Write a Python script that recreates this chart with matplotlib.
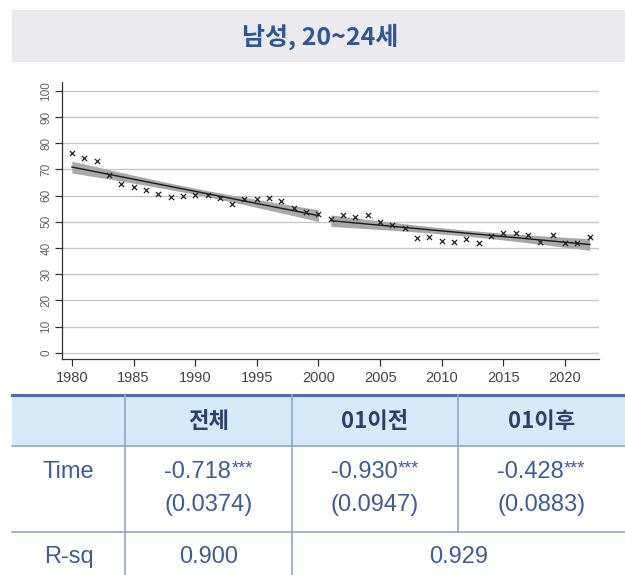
import numpy as np
import matplotlib
matplotlib.use("Agg")
import matplotlib.pyplot as plt
from matplotlib.patches import Rectangle

# ── data ──────────────────────────────────────────────────────────────────────
years = list(range(1980, 2023))
rate = [76.4, 74.4, 73.2, 68.0, 64.6, 63.2, 62.0, 60.5, 59.5, 60.0,
        60.3, 60.1, 59.0, 56.8, 58.9, 58.7, 59.0, 57.8, 55.2, 53.9,
        53.0, 51.0, 52.6, 51.8, 52.6, 49.9, 48.9, 47.6, 43.9, 44.2,
        42.7, 42.2, 43.3, 42.0, 44.5, 45.9, 45.7, 45.1, 42.4, 44.8,
        42.0, 42.0, 44.3]
break_year = 2001

title = "남성, 20~24세"
col_heads = ["전체", "01이전", "01이후"]
coefs = ["-0.718", "-0.930", "-0.428"]
stars = "***"
ses = ["(0.0374)", "(0.0947)", "(0.0883)"]
rsq = ["0.900", "0.929"]

# ── style ─────────────────────────────────────────────────────────────────────
plt.rcParams["font.family"] = ["Liberation Sans", "Noto Sans CJK KR"]
TNUM = ["Liberation Sans", "Noto Sans CJK KR"]
KR = ["Noto Sans CJK KR", "Liberation Sans"]
NAVY = "#2c3f6e"
BLUE_TXT = "#3d5c9c"
LINE = "#8aa6d6"
FS = 17

W, H = 625, 575
fig = plt.figure(figsize=(W / 100, H / 100), dpi=100)
renderer = fig.canvas.get_renderer()

# background overlay in pixel coordinates
bg = fig.add_axes([0, 0, 1, 1])
bg.set_xlim(0, W)
bg.set_ylim(H, 0)
bg.axis("off")

# title band
bg.add_patch(Rectangle((12, 10), W - 12, 52, color="#ebebef", lw=0))
bg.text(320, 37, title, ha="center", va="center", fontsize=18,
        fontweight="bold", color="#2f5596", family=KR)

# ── chart ─────────────────────────────────────────────────────────────────────
ax = fig.add_axes([62 / W, 1 - 359 / H, (599 - 62) / W, (359 - 82) / H])
x = np.array(years, dtype=float)
y = np.array(rate)

seg = [x < break_year, x >= break_year]
fits, resid = [], []
for m in seg:
    b = np.polyfit(x[m], y[m], 1)
    fits.append(b)
    resid.append(y[m] - np.polyval(b, x[m]))
resid = np.concatenate(resid)
dof = len(x) - 4
s2 = (resid ** 2).sum() / dof
tcrit = 2.023

for m, b in zip(seg, fits):
    xs = x[m]
    xm = xs.mean()
    se = np.sqrt(s2 * (1 / len(xs) + (xs - xm) ** 2 / ((xs - xm) ** 2).sum()))
    yh = np.polyval(b, xs)
    ax.fill_between(xs, yh - tcrit * se, yh + tcrit * se, color="#a8a8a8",
                    lw=0, zorder=2)
    ax.plot(xs, yh, color="#1a1a1a", lw=1.0, zorder=3)

ax.scatter(x, y, marker="x", s=14, color="#222222", lw=0.9, zorder=4)

ax.set_xlim(1979.2, 2022.75)
ax.set_ylim(-2.4, 103.4)
ax.set_yticks(range(0, 101, 10))
ax.set_xticks(range(1980, 2021, 5))
ax.grid(axis="y", color="#c8c8c8", lw=1.0)
ax.set_axisbelow(True)
for s in ["top", "right"]:
    ax.spines[s].set_visible(False)
for s in ["left", "bottom"]:
    ax.spines[s].set_color("#333333")
    ax.spines[s].set_linewidth(0.9)
ax.tick_params(axis="both", colors="#333333", labelcolor="#444444",
               labelsize=10.5, length=5, width=0.9)
ax.tick_params(axis="y", labelsize=8.5, pad=2, labelcolor="#666666")
plt.setp(ax.get_yticklabels(), rotation=90, va="center")
ax.set_facecolor("none")

# ── table ─────────────────────────────────────────────────────────────────────
top, hb, r1, bot = 395, 446, 532, 575
cols = [12, 125, 292, 458, W]
bg.add_patch(Rectangle((12, top), W - 12, hb - top, color="#d6eaf8", lw=0))
bg.plot([12, W], [top, top], color="#4a6fb5", lw=2.2)
bg.plot([12, W], [hb, hb], color=LINE, lw=1.2)
bg.plot([12, W], [r1, r1], color=LINE, lw=1.2)
for cx in cols[1:3]:
    bg.plot([cx, cx], [top, bot], color=LINE, lw=1.2)
bg.plot([cols[3], cols[3]], [top, r1], color=LINE, lw=1.2)

centers = [(cols[i] + cols[i + 1]) / 2 for i in range(4)]
for c, h in zip(centers[1:], col_heads):
    bg.text(c, 421, h, ha="center", va="center", fontsize=16,
            fontweight="bold", color=NAVY, family=KR)


def cell(xc, yc, s, **kw):
    return bg.text(xc, yc, s, ha="center", va="center", fontsize=FS,
                   color=BLUE_TXT, family=TNUM, **kw)


cell(centers[0], 472, "Time")
cell(centers[0], 557, "R-sq")
for c, cf, se in zip(centers[1:], coefs, ses):
    t1 = bg.text(0, 472, cf, ha="left", va="center", fontsize=FS,
                 color=BLUE_TXT, family=TNUM)
    t2 = bg.text(0, 460, stars, ha="left", va="top", fontsize=13,
                 color=BLUE_TXT, family=TNUM)
    w1 = t1.get_window_extent(renderer).width
    w2 = t2.get_window_extent(renderer).width
    x0 = c - (w1 + w2) / 2
    t1.set_x(x0)
    t2.set_x(x0 + w1)
    cell(c, 505, se)
cell(centers[1], 557, rsq[0])
cell((cols[2] + W) / 2, 557, rsq[1])

fig.savefig("out.png", dpi=100)
